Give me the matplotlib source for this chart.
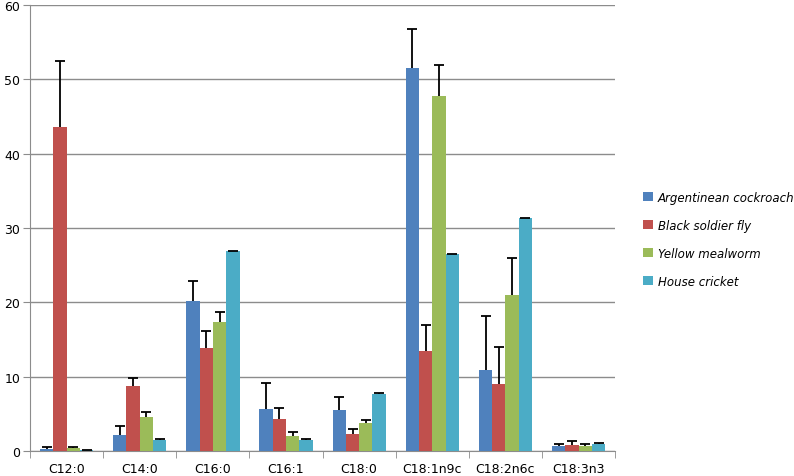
import matplotlib.pyplot as plt
import numpy as np

# Fatty acid categories
categories = ['C12:0', 'C14:0', 'C16:0', 'C16:1', 'C18:0', 'C18:1n9c', 'C18:2n6c', 'C18:3n3']
series_names = ['Argentinean cockroach', 'Black soldier fly', 'Yellow mealworm', 'House cricket']

# Mean values per series
cockroach = [0.3, 2.2, 20.2, 5.7, 5.5, 51.5, 10.9, 0.7]
soldier_fly = [43.6, 8.8, 13.8, 4.3, 2.3, 13.4, 9.0, 0.85]
mealworm = [0.4, 4.6, 17.4, 2.0, 3.8, 47.7, 21.0, 0.65]
cricket = [0.1, 1.5, 26.9, 1.5, 7.7, 26.5, 31.3, 1.0]

# Upper error (sd)
cockroach_err = [0.2, 1.1, 2.7, 3.5, 1.7, 5.3, 7.3, 0.3]
soldier_fly_err = [8.9, 1.0, 2.4, 1.5, 0.6, 3.6, 5.0, 0.45]
mealworm_err = [0.1, 0.6, 1.3, 0.5, 0.4, 4.2, 4.9, 0.25]
cricket_err = [0.05, 0.05, 0.05, 0.05, 0.05, 0.05, 0.05, 0.05]

colors = ['#4F81BD', '#C0504D', '#9BBB59', '#4BACC6']
values = [cockroach, soldier_fly, mealworm, cricket]
errors = [cockroach_err, soldier_fly_err, mealworm_err, cricket_err]

fig = plt.figure(figsize=(7.94, 4.77), dpi=100)
ax = fig.add_axes([0.0378, 0.0524, 0.737, 0.935])

x = np.arange(len(categories))
width = 0.182
for i, (vals, errs) in enumerate(zip(values, errors)):
    pos = x + (i - 1.5) * width
    ax.bar(pos, vals, width, color=colors[i], label=series_names[i], zorder=3)
    _, caps, _ = ax.errorbar(pos, vals, yerr=[np.zeros(len(errs)), errs], fmt='none',
                             ecolor='black', elinewidth=1.3, capsize=3.5,
                             capthick=1.3, zorder=4)
    # only keep the upper cap
    for c in caps:
        if np.allclose(c.get_ydata(), vals):
            c.set_visible(False)

ax.set_xlim(-0.5, len(categories) - 0.5)
ax.set_ylim(0, 60)
ax.set_yticks(range(0, 61, 10))
ax.yaxis.grid(True, color='#8C8C8C', linewidth=1.0, zorder=0)
ax.set_axisbelow(True)

ax.set_xticks(x)
ax.set_xticklabels(categories)
ax.set_xticks(np.arange(-0.5, len(categories), 1), minor=True)
ax.tick_params(axis='x', which='major', length=0, pad=8, labelsize=9)
ax.tick_params(axis='x', which='minor', length=5, color='#8C8C8C')
ax.tick_params(axis='y', length=5, color='#8C8C8C', labelsize=9, pad=2)

for s in ['top', 'right']:
    ax.spines[s].set_visible(False)
for s in ['left', 'bottom']:
    ax.spines[s].set_color('#8C8C8C')

leg = fig.legend(loc='upper left', bbox_to_anchor=(0.797, 0.62), frameon=False,
                 prop={'style': 'italic', 'size': 8.5}, handlelength=0.8,
                 handleheight=0.8, handletextpad=0.4, labelspacing=1.27)

fig.savefig('out.png', dpi=100)
